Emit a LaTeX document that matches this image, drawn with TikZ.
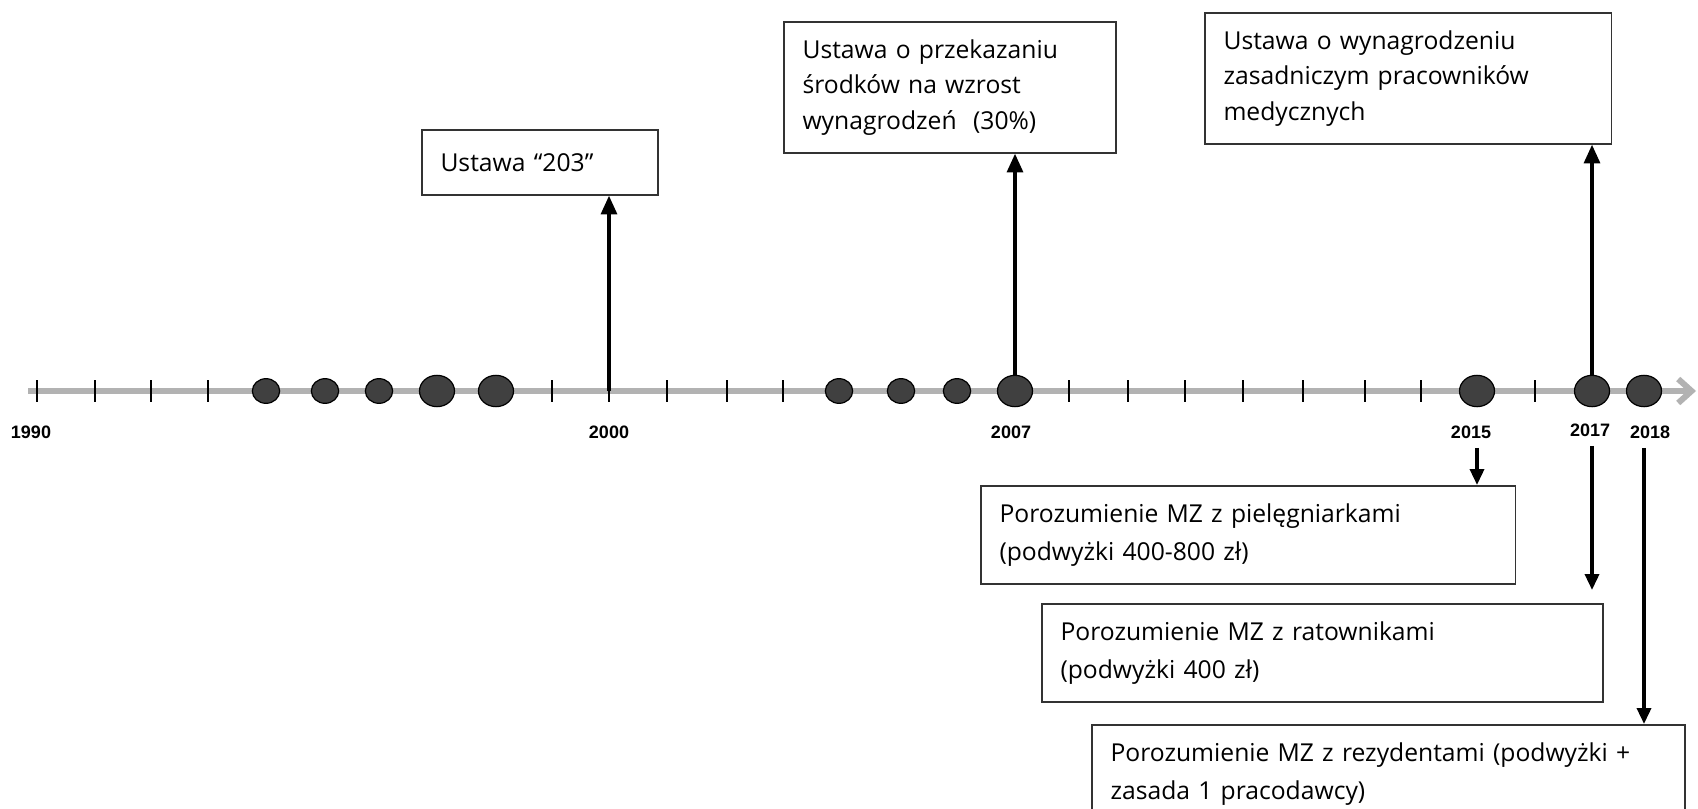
\documentclass[tikz,border=0pt]{standalone}
\usepackage{fontspec}
\setmainfont{Open Sans}
\newfontfamily\yearfont{Liberation Sans}
\usepackage{tikz}
\usetikzlibrary{positioning,shapes.geometric,arrows.meta}

\begin{document}
\begin{tikzpicture}[
  x=0.75pt, y=-0.75pt,
  event/.style={rectangle, draw=black!80, line width=1.3pt, align=left, anchor=north west, inner xsep=14pt, inner ysep=0pt, minimum height=98.25pt, font=\fontsize{18.5}{26.6}\selectfont},
  lower/.style={minimum height=73.5pt, font=\fontsize{18.5}{28.6}\selectfont},
  yearlabel/.style={inner sep=0pt, font=\yearfont\bfseries\fontsize{13.5}{15}\selectfont},
  smalldot/.style={ellipse, draw=black, line width=0.9pt, fill=black!75, inner sep=0pt, minimum width=20.5pt, minimum height=18.5pt},
  bigdot/.style={smalldot, minimum width=26.25pt, minimum height=23.5pt},
  yeartick/.style={line width=2.2pt, black},
  timeline/.style={line width=4.5pt, black!30, -{Straight Barb[length=10pt,width=18pt]}},
  arrow/.style={line width=2.4pt, -{Triangle[length=14pt,width=12pt]}},
  downarrow/.style={line width=2.6pt, -{Triangle[length=12pt,width=10.5pt]}, shorten <=7pt}
]
\clip (0,0) rectangle (1698,809);
\fill[white] (0,0) rectangle (1698,809);

% axis
\coordinate (axstart) at (28,391);
\coordinate (axend) at (1696,391);
\draw[timeline] (axstart) -- (axend);

\foreach \x in {37,95,151,208,552,609,667,727,783,1069,1128,1185,1243,1303,1365,1421,1535}
  \draw[yeartick] (\x,380) -- (\x,402);
\coordinate (t2000) at (609,391);

% dots
\node[smalldot] (d1994) at (266,391) {};
\node[smalldot] (d1995) at (325,391) {};
\node[smalldot] (d1996) at (379,391) {};
\node[bigdot] (d1997) at (437,391) {};
\node[bigdot] (d1998) at (496,391) {};
\node[smalldot] (d2004) at (839,391) {};
\node[smalldot] (d2005) at (901,391) {};
\node[smalldot] (d2006) at (957,391) {};
\node[bigdot] (d2007) at (1015,391) {};
\node[bigdot] (d2015) at (1477,391) {};
\node[bigdot] (d2017) at (1592,391) {};
\node[bigdot] (d2018) at (1644,391) {};

% years
\node[yearlabel] (l1990) at (31,432) {1990};
\node[yearlabel] (l2000) at (609,432) {2000};
\node[yearlabel] (l2007) at (1011,432) {2007};
\node[yearlabel] (l2015) at (1471,432) {2015};
\node[yearlabel] (l2017) at (1590,430) {2017};
\node[yearlabel] (l2018) at (1650,432) {2018};

% boxes
\node[event, text width=149pt, minimum height=48.75pt] (ustawa203) at (421,129) {Ustawa “203”};
\node[event, text width=221pt] (ustawa30) at (783,21) {Ustawa o przekazaniu\\ środków na wzrost\\ wynagrodzeń\ \ (30\%)};
\node[event, text width=277pt] (ustawamed) at (1204,12) {Ustawa o wynagrodzeniu\\ zasadniczym pracowników\\ medycznych};
\node[event, lower, text width=373pt] (pielegniarki) at (980,485) {Porozumienie MZ z pielęgniarkami\\ (podwyżki 400-800 zł)};
\node[event, lower, text width=393pt] (ratownicy) at (1041,603) {Porozumienie MZ z ratownikami\\ (podwyżki 400 zł)};
\node[event, lower, text width=417pt] (rezydenci) at (1091,724) {Porozumienie MZ z rezydentami (podwyżki +\\ zasada 1 pracodawcy)};

% arrows
\draw[arrow] (t2000) -- (t2000 |- ustawa203.south);
\draw[arrow] (d2007.north) -- (d2007 |- ustawa30.south);
\draw[arrow] (d2017.north) -- (d2017 |- ustawamed.south);
\draw[downarrow] (d2015 |- l2015.south) -- (d2015 |- pielegniarki.north);
\draw[downarrow, shorten >=9.75pt] (d2017 |- l2017.south) -- (d2017 |- ratownicy.north);
\draw[downarrow] (d2018 |- l2018.south) -- (d2018 |- rezydenci.north);

\end{tikzpicture}
\end{document}
